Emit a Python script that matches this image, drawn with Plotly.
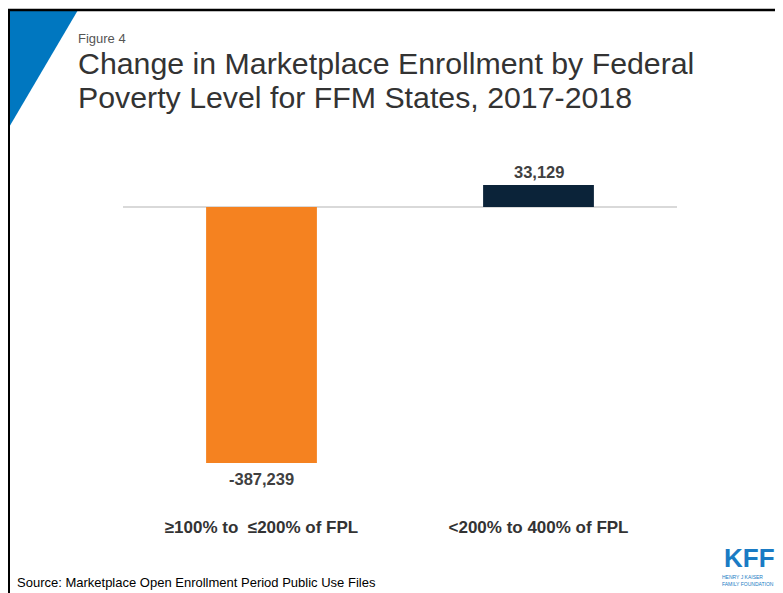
import plotly.graph_objects as go

categories = ["≥100% to  ≤200% of FPL", "<200% to 400% of FPL"]
values = [-387239, 33129]
value_labels = ["-387,239", "33,129"]
bar_colors = ["#F58220", "#0B2339"]

# page is offset by 8px body margin; work in reference-pixel coordinates
OFF = 8
W, H = 783 - OFF, 593 - OFF
def px(x):
    return (x - OFF) / W
def py(y):
    return 1 - (y - OFF) / H

FONT = "Liberation Sans, Arial, sans-serif"

fig = go.Figure()
fig.add_trace(go.Bar(
    x=[0, 1], y=values, width=0.4,
    marker=dict(color=bar_colors, line=dict(width=0)),
    hoverinfo="skip",
))

annotations = [
    dict(text="Figure 4", x=px(76), y=py(38), xref="paper", yref="paper",
         xanchor="left", yanchor="middle", showarrow=False,
         font=dict(family=FONT, size=13, color="#555555")),
    dict(text="Change in Marketplace Enrollment by Federal",
         x=px(76), y=py(45), xref="paper", yref="paper",
         xanchor="left", yanchor="top", align="left", showarrow=False,
         font=dict(family=FONT, size=30.3, color="#333333")),
    dict(text="Poverty Level for FFM States, 2017-2018",
         x=px(76), y=py(79), xref="paper", yref="paper",
         xanchor="left", yanchor="top", align="left", showarrow=False,
         font=dict(family=FONT, size=30.3, color="#333333")),
    dict(text="Source: Marketplace Open Enrollment Period Public Use Files",
         x=px(15), y=py(582), xref="paper", yref="paper",
         xanchor="left", yanchor="middle", showarrow=False,
         font=dict(family=FONT, size=13, color="#000000")),
    dict(text="<b>KFF</b>", x=px(749), y=py(558), xref="paper", yref="paper",
         xanchor="center", yanchor="middle", showarrow=False,
         font=dict(family=FONT, size=26, color="#1A7BC4")),
    dict(text="HENRY J KAISER<br>FAMILY FOUNDATION", x=px(748), y=py(580),
         xref="paper", yref="paper", xanchor="center", yanchor="middle",
         showarrow=False, align="left",
         font=dict(family=FONT, size=5, color="#1A7BC4")),
    dict(text="(Figure 4)", x=px(663), y=py(-3), xref="paper", yref="paper",
         xanchor="left", yanchor="middle", showarrow=False,
         font=dict(family=FONT, size=20, color="#333333")),
    dict(text="y", x=px(8), y=py(-3), xref="paper", yref="paper",
         xanchor="left", yanchor="middle", showarrow=False,
         font=dict(family=FONT, size=20, color="#333333")),
]
# value labels placed through the data axes
for i, (v, lab) in enumerate(zip(values, value_labels)):
    annotations.append(dict(
        x=i, y=v, xref="x", yref="y", text=f"<b>{lab}</b>", showarrow=False,
        xanchor="center", yanchor="middle",
        yshift=(13 if v > 0 else -16),
        font=dict(family=FONT, size=16.5, color="#404040"),
    ))

k = 387239 / 256.0
fig.update_layout(
    width=W, height=H,
    margin=dict(l=0, r=0, t=0, b=0),
    paper_bgcolor="white", plot_bgcolor="white",
    showlegend=False,
    font=dict(family=FONT),
    xaxis=dict(domain=[px(123), px(677)], range=[-0.5, 1.5],
               tickvals=[0, 1], ticktext=categories,
               tickfont=dict(family=FONT, size=17, color="#333333", weight="bold"),
               showgrid=False, zeroline=False, showline=False, ticks="",
               ticklabelstandoff=45, fixedrange=True),
    yaxis=dict(domain=[py(470), py(180)], range=[-(470 - 207) * k, (207 - 180) * k],
               showticklabels=False, showgrid=False, zeroline=True,
               zerolinecolor="#D9D9D9", zerolinewidth=1.5, ticks="", fixedrange=True),
    shapes=[
        dict(type="path", xref="paper", yref="paper",
             path=f"M {px(8)},{py(10)} L {px(78)},{py(10)} L {px(8)},{py(129)} Z",
             fillcolor="#0077C0", line=dict(width=0), layer="above"),
        dict(type="line", xref="paper", yref="paper",
             x0=px(7), x1=px(800), y0=py(10), y1=py(10),
             line=dict(color="black", width=2.5)),
        dict(type="line", xref="paper", yref="paper",
             x0=px(9), x1=px(9), y0=py(9), y1=py(600),
             line=dict(color="black", width=2)),
    ],
    annotations=annotations,
)

fig.write_html("out.html")
